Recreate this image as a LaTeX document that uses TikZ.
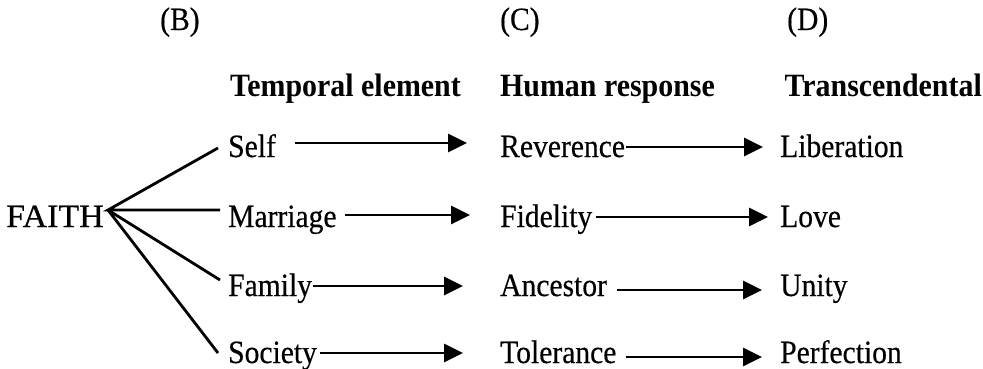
\documentclass[tikz,border=0pt]{standalone}
\usepackage{fontspec}
\setmainfont{Liberation Serif}[FakeStretch=0.91,UprightFeatures={FakeBold=0.4},BoldFeatures={FakeStretch=0.92}]
\usetikzlibrary{arrows.meta}
\begin{document}
\begin{tikzpicture}[x=1pt,y=-1pt,
  txt/.style={inner sep=0pt,anchor=base west,font=\fontsize{32.5}{36}\selectfont},
  hdr/.style={txt,font=\fontsize{32.5}{36}\selectfont\bfseries},
  ln/.style={line width=2.8pt},
  arr/.style={line width=2.8pt,-{Triangle[length=19pt,width=18pt]}}]
\useasboundingbox (0,0) rectangle (983,369);
% column letters
\node[txt] (B) at (160,30) {(B)};
\node[txt] (C) at (500,30) {(C)};
\node[txt] (D) at (787,30) {(D)};
% headers
\node[hdr] (h1) at (230,96) {Temporal element};
\node[hdr] (h2) at (500,96) {Human response};
\node[hdr,anchor=base east] (h3) at (982,96) {Transcendental};
% FAITH
\node[txt,anchor=base east] (faith) at (104,227) {\scalebox{1.15}[1]{FAITH}};
\coordinate (fp) at ([xshift=4pt,yshift=17pt]faith.base east);
% column B
\node[txt] (self) at (228,157) {Self};
\node[txt] (marr) at (228,227) {Marriage};
\node[txt] (fam) at (228,296) {Family};
\node[txt] (soc) at (228,363) {Society};
% column C
\node[txt] (rev) at (500,157) {Reverence};
\node[txt] (fid) at (500,227) {Fidelity};
\node[txt] (anc) at (500,296) {Ancestor};
\node[txt] (tol) at (500,363) {Tolerance};
% column D
\node[txt] (lib) at (780,157) {Liberation};
\node[txt] (love) at (780,227) {Love};
\node[txt] (unity) at (780,296) {Unity};
\node[txt] (perf) at (780,363) {Perfection};
% branches from FAITH
\draw[ln] ([xshift=-10pt,yshift=9pt]self.base west) -- (fp)
          -- ([xshift=-8pt,yshift=17pt]marr.base west);
\draw[ln] (fp) -- ([xshift=-8pt,yshift=16pt]fam.base west);
\draw[ln] (fp) -- ([xshift=-10pt,yshift=10pt]soc.base west);
% arrows B -> C
\draw[arr] ([xshift=19pt,yshift=14pt]self.base east) -- ([xshift=-33pt,yshift=14pt]rev.base west);
\draw[arr] ([xshift=8pt,yshift=12pt]marr.base east) -- ([xshift=-30pt,yshift=12pt]fid.base west);
\draw[arr] ([xshift=1pt,yshift=10pt]fam.base east) -- ([xshift=-37pt,yshift=10pt]anc.base west);
\draw[arr] ([xshift=3pt,yshift=10pt]soc.base east) -- ([xshift=-37pt,yshift=10pt]tol.base west);
% arrows C -> D
\draw[arr] ([xshift=1pt,yshift=10pt]rev.base east) -- ([xshift=-17pt,yshift=10pt]lib.base west);
\draw[arr] ([xshift=4pt,yshift=10pt]fid.base east) -- ([xshift=-12pt,yshift=10pt]love.base west);
\draw[arr] ([xshift=10pt,yshift=6pt]anc.base east) -- ([xshift=-18pt,yshift=6pt]unity.base west);
\draw[arr] ([xshift=9pt,yshift=6pt]tol.base east) -- ([xshift=-18pt,yshift=6pt]perf.base west);
\end{tikzpicture}
\end{document}
